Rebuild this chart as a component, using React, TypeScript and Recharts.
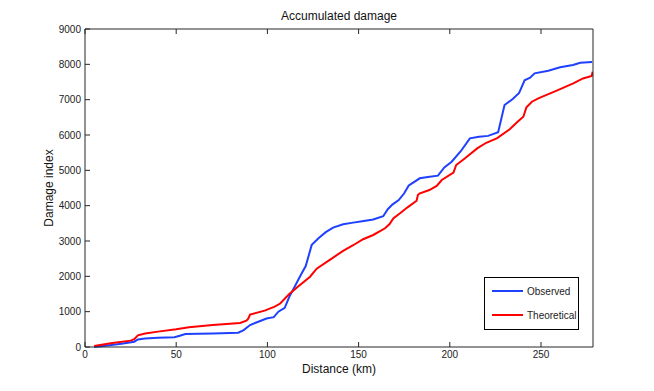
import { LineChart, Line, XAxis, YAxis, Legend, Label } from "recharts";

const observedKm = [
  5, 10, 20, 27, 29, 33, 40, 49, 52, 55, 70, 84, 87, 90.5, 95, 99.5, 103.5, 106, 109.5, 112,
  115, 118, 121, 124.3, 128, 132, 136, 141.5, 147, 152, 158, 163.5, 166, 168.5, 172, 175, 177.5,
  179.5, 183.5, 188, 193.5, 197, 201, 206, 211, 216, 221, 226.5, 230, 234.5, 238, 241, 244,
  246.5, 254, 260.5, 267.5, 271.5, 278,
];
const observedDamage = [
  0, 30, 90, 150, 215, 240, 265, 275, 320, 365, 380, 405, 480, 622, 716, 808, 845, 1000, 1110,
  1420, 1710, 2010, 2290, 2890, 3076, 3250, 3380, 3472, 3520, 3560, 3610, 3700, 3900, 4030,
  4160, 4350, 4570, 4640, 4774, 4810, 4850, 5080, 5244, 5540, 5906, 5950, 5975, 6076, 6849,
  7018, 7190, 7550, 7620, 7745, 7820, 7915, 7981, 8046, 8066,
];

const theoreticalKm = [
  5, 15, 25, 27, 29, 33, 40, 50, 57, 70, 85, 88.5, 89.5, 90.5, 98.5, 104, 107, 112, 117, 123.4,
  127, 134, 141.5, 147, 152.5, 158, 164.5, 167, 169, 172.7, 177, 181.8, 182.5, 183.3, 188.8,
  192.8, 195.6, 202, 203.5, 208, 215, 220, 226, 233, 237, 240.3, 242, 245, 248.5, 258.6, 267.7,
  273, 277.8, 278.3,
];
const theoreticalDamage = [
  30, 110, 180, 220, 330, 380, 435, 500, 560, 620, 680, 745, 800, 920, 1030, 1141, 1230, 1500,
  1720, 1990, 2215, 2460, 2720, 2880, 3050, 3170, 3360, 3480, 3640, 3784, 3960, 4140, 4300,
  4340, 4443, 4560, 4726, 4933, 5151, 5330, 5620, 5780, 5910, 6170, 6370, 6518, 6783, 6942,
  7038, 7254, 7462, 7600, 7669, 7791,
];

const xTicks = [0, 50, 100, 150, 200, 250];
const yTicks = [0, 1000, 2000, 3000, 4000, 5000, 6000, 7000, 8000, 9000];

const observed = observedKm.map((x, i) => ({ x, y: observedDamage[i] }));
const theoretical = theoreticalKm.map((x, i) => ({ x, y: theoreticalDamage[i] }));

const axisColor = "#262626";
const font = "'Liberation Sans', Arial, Helvetica, sans-serif";

function LegendBox(props: { payload?: Array<{ value: string; color: string }> }) {
  const items = props.payload ?? [];
  return (
    <div
      style={{
        width: 95,
        height: 53,
        boxSizing: "border-box",
        border: "1px solid #000",
        background: "#fff",
        fontFamily: font,
        fontSize: 10,
        color: "#222",
        paddingTop: 7,
      }}
    >
      {items.map((it) => (
        <div key={it.value} style={{ display: "flex", alignItems: "center", height: 12, marginBottom: 12 }}>
          <span
            style={{ display: "inline-block", width: 31, height: 2, background: it.color, marginLeft: 7, marginRight: 4 }}
          />
          <span>{it.value}</span>
        </div>
      ))}
    </div>
  );
}

export default function App() {
  return (
    <div style={{ position: "absolute", left: 0, top: 0 }}>
      <LineChart
        width={654}
        height={391}
        margin={{ top: 28, right: 60, bottom: 14, left: 40 }}
        style={{ fontFamily: font }}
      >
        <XAxis
          xAxisId="bottom"
          type="number"
          dataKey="x"
          domain={[0, 278.5]}
          ticks={xTicks}
          allowDataOverflow
          height={30}
          tickSize={-5}
          tickMargin={9}
          tick={{ fontSize: 10, fill: "#222" }}
          axisLine={{ stroke: axisColor }}
          tickLine={{ stroke: axisColor }}
        >
          <Label value="Distance (km)" position="insideBottom" offset={4} style={{ fontSize: 12, fill: "#111" }} />
        </XAxis>
        <XAxis
          xAxisId="top"
          orientation="top"
          type="number"
          dataKey="x"
          domain={[0, 278.5]}
          ticks={xTicks}
          allowDataOverflow
          height={1}
          tickSize={-5}
          tickFormatter={() => ""}
          axisLine={{ stroke: axisColor }}
          tickLine={{ stroke: axisColor }}
        >
          <Label value="Accumulated damage" position="top" offset={8} style={{ fontSize: 12, fill: "#111" }} />
        </XAxis>
        <YAxis
          yAxisId="left"
          type="number"
          domain={[0, 9000]}
          ticks={yTicks}
          width={45}
          tickSize={-5}
          tickMargin={9}
          tick={{ fontSize: 10, fill: "#222" }}
          axisLine={{ stroke: axisColor }}
          tickLine={{ stroke: axisColor }}
        >
          <Label
            value="Damage index"
            angle={-90}
            position="insideLeft"
            offset={9}
            style={{ fontSize: 12, fill: "#111", textAnchor: "middle" }}
          />
        </YAxis>
        <YAxis
          yAxisId="right"
          orientation="right"
          type="number"
          domain={[0, 9000]}
          ticks={yTicks}
          width={1}
          tickSize={-5}
          tickFormatter={() => ""}
          axisLine={{ stroke: axisColor }}
          tickLine={{ stroke: axisColor }}
        />
        <Legend
          layout="vertical"
          align="center"
          verticalAlign="middle"
          content={<LegendBox />}
          wrapperStyle={{ position: "absolute", left: 484, top: 277, width: 95, height: 53 }}
        />
        <Line
          name="Observed"
          data={observed}
          xAxisId="bottom"
          yAxisId="left"
          dataKey="y"
          type="linear"
          stroke="#2040ff"
          strokeWidth={2}
          dot={false}
          isAnimationActive={false}
        />
        <Line
          name="Theoretical"
          data={theoretical}
          xAxisId="bottom"
          yAxisId="left"
          dataKey="y"
          type="linear"
          stroke="#ff0000"
          strokeWidth={2}
          dot={false}
          isAnimationActive={false}
        />
      </LineChart>
    </div>
  );
}
